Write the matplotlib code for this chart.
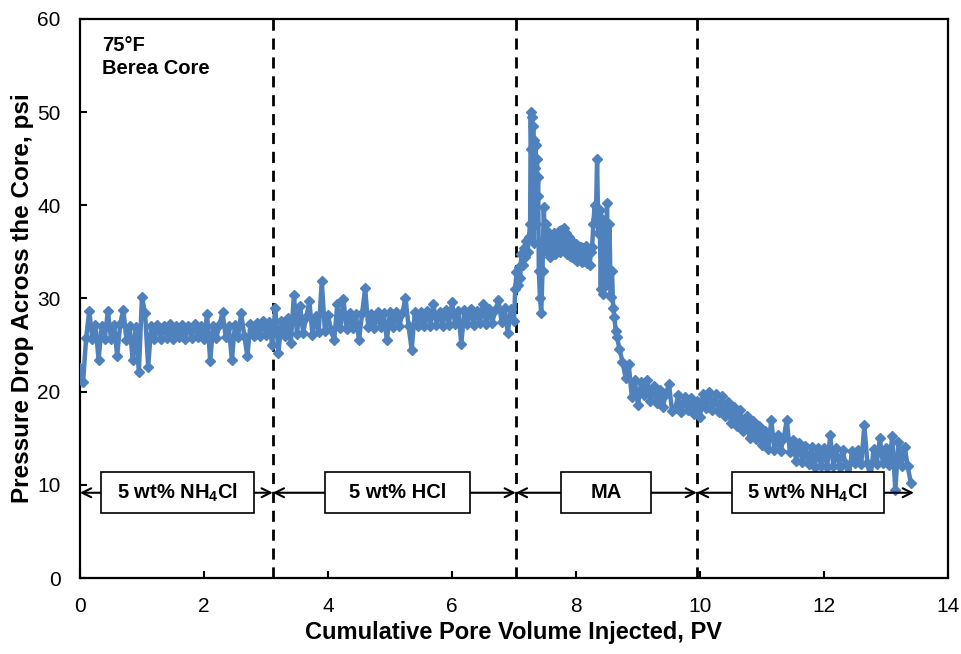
import numpy as np
import matplotlib
matplotlib.use("Agg")
import matplotlib.pyplot as plt
from matplotlib.patches import Rectangle

plt.rcParams['font.family'] = ['Liberation Sans', 'DejaVu Sans']
plt.rcParams['mathtext.fontset'] = 'custom'
plt.rcParams['mathtext.rm'] = 'Liberation Sans:bold'
plt.rcParams['mathtext.default'] = 'rm'

# pressure drop record, PV injected vs psi
pv_nh4cl = [0.00, 0.05, 0.10, 0.15, 0.20, 0.25, 0.30, 0.35, 0.40, 0.45,
            0.50, 0.55, 0.60, 0.65, 0.70, 0.75, 0.80, 0.85, 0.90, 0.95,
            1.00, 1.05, 1.10, 1.15, 1.20, 1.25, 1.30, 1.35, 1.40, 1.45,
            1.50, 1.55, 1.60, 1.65, 1.70, 1.75, 1.80, 1.85, 1.90, 1.95,
            2.00, 2.05, 2.10, 2.15, 2.20, 2.25, 2.30, 2.35, 2.40, 2.45,
            2.50, 2.55, 2.60, 2.65, 2.70, 2.75, 2.80, 2.85, 2.90, 2.95,
            3.00, 3.05, 3.10]
dp_nh4cl = [22.5, 21.0, 25.8, 28.7, 25.6, 27.2, 23.4, 27.0, 25.6, 28.7,
            25.7, 27.2, 23.8, 27.3, 28.8, 25.5, 27.1, 23.4, 26.9, 22.1,
            30.2, 28.4, 22.7, 27.0, 25.6, 27.2, 25.7, 27.1, 25.8, 27.3,
            25.6, 27.0, 25.9, 27.2, 25.7, 27.1, 25.8, 27.3, 25.9, 27.0,
            25.7, 28.3, 23.3, 27.1, 25.8, 27.2, 28.5, 25.9, 27.0, 23.4,
            27.2, 25.9, 28.4, 26.0, 23.8, 27.3, 26.0, 27.4, 26.0, 27.6,
            26.1, 27.5, 25.0]

pv_hcl = [3.15, 3.20, 3.25, 3.30, 3.35, 3.40, 3.45, 3.50, 3.55, 3.60,
          3.65, 3.70, 3.75, 3.80, 3.85, 3.90, 3.95, 4.00, 4.05, 4.10,
          4.15, 4.20, 4.25, 4.30, 4.35, 4.40, 4.45, 4.50, 4.55, 4.60,
          4.65, 4.70, 4.75, 4.80, 4.85, 4.90, 4.95, 5.00, 5.05, 5.10,
          5.15, 5.20, 5.25, 5.30, 5.35, 5.40, 5.45, 5.50, 5.55, 5.60,
          5.65, 5.70, 5.75, 5.80, 5.85, 5.90, 5.95, 6.00, 6.05, 6.10,
          6.15, 6.20, 6.25, 6.30, 6.35, 6.40, 6.45, 6.50, 6.55, 6.60,
          6.65, 6.70, 6.75, 6.80, 6.85, 6.90, 6.95, 7.00]
dp_hcl = [29.0, 24.1, 27.6, 26.0, 27.9, 25.2, 30.4, 26.2, 29.2, 26.3,
          28.0, 29.7, 26.1, 28.1, 26.4, 31.9, 26.5, 28.2, 26.6, 25.5,
          29.4, 26.8, 29.9, 26.7, 28.4, 26.8, 28.3, 25.5, 28.4, 31.1,
          26.9, 28.3, 26.8, 28.5, 26.9, 28.4, 25.5, 28.5, 26.9, 28.6,
          27.0, 28.4, 30.1, 27.0, 24.5, 28.5, 27.1, 28.6, 27.0, 28.7,
          27.1, 29.4, 27.2, 28.6, 27.1, 28.8, 27.2, 29.6, 27.3, 28.7,
          25.1, 28.8, 27.3, 28.9, 27.2, 28.7, 27.4, 29.4, 27.3, 28.9,
          27.4, 28.8, 29.8, 27.5, 29.0, 26.3, 28.9, 27.6]

pv_ma = [7.02, 7.04, 7.06, 7.08, 7.10, 7.12, 7.14, 7.16, 7.18, 7.20,
         7.22, 7.24, 7.26, 7.27, 7.28, 7.29, 7.30, 7.31, 7.32, 7.33,
         7.34, 7.35, 7.36, 7.37, 7.38, 7.39, 7.40, 7.42, 7.44, 7.46,
         7.48, 7.50, 7.52, 7.54, 7.56, 7.58, 7.60, 7.62, 7.64, 7.66,
         7.68, 7.70, 7.72, 7.74, 7.76, 7.78, 7.80, 7.82, 7.84, 7.86,
         7.88, 7.90, 7.92, 7.94, 7.96, 7.98, 8.00, 8.02, 8.04, 8.06,
         8.08, 8.10, 8.12, 8.14, 8.16, 8.18, 8.20, 8.22, 8.24, 8.26,
         8.28, 8.30, 8.32, 8.34, 8.36, 8.38, 8.40, 8.42, 8.44, 8.46,
         8.48, 8.50, 8.52, 8.54, 8.56, 8.58, 8.60, 8.62, 8.64, 8.66,
         8.70]
dp_ma = [31.0, 32.8, 31.5, 33.4, 32.2, 34.8, 33.6, 35.4, 34.4, 36.2,
         35.0, 36.6, 38.0, 50.0, 46.0, 49.5, 40.0, 48.5, 36.0, 47.0,
         44.0, 46.5, 38.0, 45.0, 41.0, 43.0, 33.0, 30.0, 28.4, 33.0,
         39.8, 36.5, 38.0, 35.0, 37.0, 34.5, 36.8, 35.2, 37.0, 34.8,
         36.9, 35.3, 37.2, 35.0, 37.3, 35.6, 37.6, 35.2, 37.0, 34.8,
         36.6, 34.6, 36.2, 34.4, 36.0, 34.2, 35.8, 34.0, 35.6, 34.2,
         35.5, 33.9, 35.4, 34.0, 35.6, 33.8, 35.2, 33.6, 35.0, 35.5,
         38.0, 40.0, 38.5, 45.0, 37.0, 39.5, 31.0, 38.5, 30.5, 37.5,
         31.5, 40.2, 32.0, 38.0, 30.2, 33.0, 29.0, 28.0, 26.5, 25.9,
         24.6]

pv_post = [8.75, 8.80, 8.85, 8.90, 8.95, 9.00, 9.05, 9.10, 9.15, 9.20,
           9.25, 9.30, 9.35, 9.40, 9.45, 9.50, 9.55, 9.60, 9.65, 9.70,
           9.75, 9.80, 9.85, 9.90, 9.95, 10.00, 10.05, 10.10, 10.15, 10.20,
           10.25, 10.30, 10.35, 10.40, 10.45, 10.50, 10.55, 10.60, 10.65, 10.70,
           10.75, 10.80, 10.85, 10.90, 10.95, 11.00, 11.05, 11.10, 11.15, 11.20,
           11.25, 11.30, 11.35, 11.40, 11.45, 11.50, 11.55, 11.60, 11.65, 11.70,
           11.75, 11.80, 11.85, 11.90, 11.95, 12.00, 12.05, 12.10, 12.15, 12.20,
           12.25, 12.30, 12.35, 12.40, 12.45, 12.50, 12.55, 12.60, 12.65, 12.70,
           12.75, 12.80, 12.85, 12.90, 12.95, 13.00, 13.05, 13.10, 13.15, 13.20,
           13.25, 13.30, 13.35, 13.40]
dp_post = [23.2, 21.5, 23.0, 19.4, 21.2, 18.6, 21.0, 19.6, 21.2, 19.0,
           20.6, 18.8, 20.2, 18.3, 19.8, 20.8, 17.9, 18.2, 19.6, 17.8,
           19.4, 18.0, 19.3, 17.6, 19.0, 17.3, 19.8, 18.2, 20.0, 18.0,
           19.8, 17.8, 19.5, 17.4, 18.9, 16.6, 18.3, 16.3, 18.0, 15.8,
           17.4, 15.0, 16.8, 14.9, 16.3, 14.3, 15.8, 13.8, 17.0, 13.7,
           15.3, 13.6, 15.0, 17.0, 13.5, 14.8, 12.6, 14.5, 12.4, 14.2,
           12.2, 14.1, 11.9, 14.0, 12.0, 14.0, 11.9, 15.3, 12.0, 13.9,
           11.9, 13.7, 12.2, 10.8, 13.6, 12.3, 13.7, 12.2, 16.4, 12.3,
           10.8, 13.8, 12.2, 15.0, 12.3, 13.9, 12.1, 15.2, 9.4, 14.6,
           12.0, 14.1, 12.0, 10.2]

# stage boundaries (PV) and stage labels
bounds = [0.0, 3.11, 7.03, 9.95, 13.45]
stages = ['5 wt% NH$_4$Cl', '5 wt% HCl', 'MA', '5 wt% NH$_4$Cl']
box_x = [1.57, 5.12, 8.48, 11.74]
box_w = [2.47, 2.34, 1.45, 2.45]

pv = pv_nh4cl + pv_hcl + pv_ma + pv_post
dp = dp_nh4cl + dp_hcl + dp_ma + dp_post

fig = plt.figure(figsize=(9.61, 6.54), dpi=100)
ax = fig.add_axes([0.0832, 0.1162, 0.9033, 0.8548])

blue = '#4F81BD'
ax.plot(pv, dp, color=blue, lw=3.2, marker='D', ms=5.4, mec=blue, mfc=blue,
        solid_joinstyle='round', zorder=3)

for b in bounds[1:4]:
    ax.axvline(b, color='black', lw=2, ls=(0, (4, 2.8)), zorder=2)

arrow_y = 9.15
for i in range(4):
    ax.annotate('', xy=(bounds[i], arrow_y), xytext=(bounds[i + 1], arrow_y),
                arrowprops=dict(arrowstyle='<->', color='black', lw=1.5,
                                shrinkA=0, shrinkB=0, mutation_scale=16),
                zorder=4)
    ax.add_patch(Rectangle((box_x[i] - box_w[i] / 2, 6.97), box_w[i], 4.4,
                           facecolor='white', edgecolor='black', lw=1.2, zorder=5))
    ax.text(box_x[i], arrow_y, stages[i], ha='center', va='center',
            fontsize=14.5, fontweight='bold', zorder=6)

ax.text(0.36, 58.2, '75°F\nBerea Core', fontsize=14.5, fontweight='bold',
        va='top', ha='left', linespacing=1.3)

ax.set_xlim(0, 14)
ax.set_ylim(0, 60)
ax.set_xticks(range(0, 15, 2))
ax.set_yticks(range(0, 61, 10))
ax.tick_params(direction='in', length=5, width=1.5, labelsize=15, pad=14,
               top=False, right=False)
for s in ax.spines.values():
    s.set_linewidth(1.6)

ax.set_xlabel('Cumulative Pore Volume Injected, PV', fontsize=17,
              fontweight='bold', labelpad=3)
ax.set_ylabel('Pressure Drop Across the Core, psi', fontsize=17.5,
              fontweight='bold', labelpad=2)

fig.savefig('out.png', dpi=100)
